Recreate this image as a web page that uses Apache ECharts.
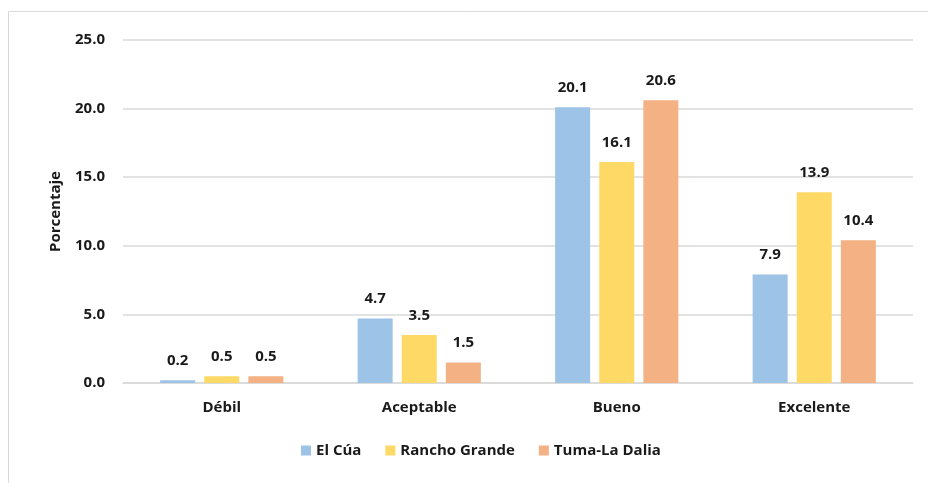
<!DOCTYPE html>
<html><head><meta charset="utf-8">
<script src="https://cdn.jsdelivr.net/npm/echarts@6/dist/echarts.min.js"></script>
<style>html,body{margin:0;padding:0;background:#fff}#c{width:928px;height:483px}</style>
</head><body><div id="c"></div>
<script>
const categories = ["Débil", "Aceptable", "Bueno", "Excelente"];
const seriesNames = ["El Cúa", "Rancho Grande", "Tuma-La Dalia"];
const elCua = [0.2, 4.7, 20.1, 7.9];
const ranchoGrande = [0.5, 3.5, 16.1, 13.9];
const tumaLaDalia = [0.5, 1.5, 20.6, 10.4];
const colors = ["#9DC3E6", "#FFD966", "#F4B183"];
const FONT = "Open Sans";
const chart = echarts.init(document.getElementById('c'));
const mk = (name, data, color) => ({
  name, type: 'bar', data, barWidth: 35, barGap: '26%',
  itemStyle: {color},
  label: {show: true, position: 'top', distance: 12, formatter: p => p.value.toFixed(1),
    fontFamily: FONT, fontWeight: 'bold', fontSize: 15, color: '#1a1a1a'}
});
chart.setOption({
  animation: false,
  graphic: [{type: 'rect', shape: {x: 8.5, y: 11.5, width: 940, height: 490},
    style: {fill: 'none', stroke: '#d9d9d9', lineWidth: 1}}],
  grid: {left: 123, right: 15, top: 40, bottom: 100},
  legend: {bottom: 20, left: 296, itemWidth: 10, itemHeight: 10, itemGap: 24,
    icon: 'rect', textStyle: {fontFamily: FONT, fontWeight: 'bold', fontSize: 15, color: '#1a1a1a'}},
  xAxis: {type: 'category', data: categories, axisTick: {show: false},
    axisLine: {lineStyle: {color: '#d9d9d9', width: 1.5}},
    axisLabel: {fontFamily: FONT, fontWeight: 'bold', fontSize: 15, color: '#1a1a1a', margin: 17}},
  yAxis: {type: 'value', min: 0, max: 25, interval: 5, name: 'Porcentaje',
    nameLocation: 'middle', nameGap: 60, nameRotate: 90,
    nameTextStyle: {fontFamily: FONT, fontWeight: 'bold', fontSize: 15, color: '#1a1a1a'},
    splitLine: {lineStyle: {color: '#d9d9d9', width: 1.5}},
    axisLabel: {formatter: v => v.toFixed(1), fontFamily: FONT, fontWeight: 'bold', fontSize: 15, color: '#1a1a1a', margin: 18}},
  series: [mk(seriesNames[0], elCua, colors[0]), mk(seriesNames[1], ranchoGrande, colors[1]), mk(seriesNames[2], tumaLaDalia, colors[2])]
});
</script></body></html>
